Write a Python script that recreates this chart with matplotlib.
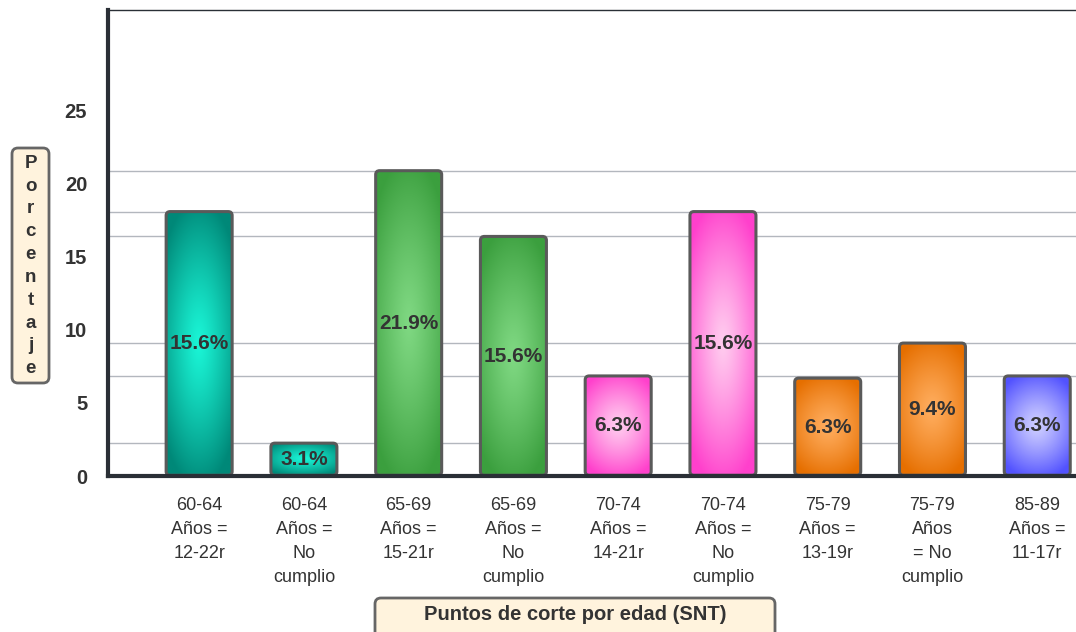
import matplotlib
matplotlib.use("Agg")
import matplotlib.pyplot as plt
import numpy as np
from matplotlib.patches import FancyBboxPatch
from matplotlib.colors import to_rgb

# categories (x tick labels)
categories = ["60-64\nAños =\n12-22r", "60-64\nAños =\nNo\ncumplio",
              "65-69\nAños =\n15-21r", "65-69\nAños =\nNo\ncumplio",
              "70-74\nAños =\n14-21r", "70-74\nAños =\nNo\ncumplio",
              "75-79\nAños =\n13-19r", "75-79\nAños\n= No\ncumplio",
              "85-89\nAños =\n11-17r"]
# bar heights as they sit on the axis scale
heights = [18.1, 2.25, 20.9, 16.4, 6.85, 18.1, 6.7, 9.1, 6.85]
# percent labels printed in the bars
pct_labels = ["15.6%", "3.1%", "21.9%", "15.6%", "6.3%", "15.6%", "6.3%", "9.4%", "6.3%"]
yticks = [0, 5, 10, 15, 20, 25]

# gradient colours (centre, edge) per bar
teal = ("#1af5d6", "#008878")
green = ("#7fd882", "#3b9f3e")
pink = ("#ffccef", "#ff40cc")
orange = ("#ffad5e", "#e66f00")
blue = ("#cfcfff", "#5252ff")
bar_colors = [teal, teal, green, green, pink, pink, orange, orange, blue]

fig = plt.figure(figsize=(10.76, 6.32), dpi=100)
ax = fig.add_axes([108 / 1076, 1 - 476 / 632, 1 - 108 / 1076, 466 / 632])

x = np.arange(len(categories))
width = 0.63
xmin, xmax = -0.87, 8.37
ymax = 31.9

# gridlines sit at the bar tops (close ones merged)
grid_levels = []
for h in sorted(heights, reverse=True):
    if all(abs(h - g) > 0.3 for g in grid_levels):
        grid_levels.append(h)
for h in grid_levels:
    ax.axhline(h, color="#b3b7be", lw=1, zorder=1)

rx = 0.038
ry = 0.27
for xi, h, lab, (c_in, c_out) in zip(x, heights, pct_labels, bar_colors):
    x0 = xi - width / 2
    patch = FancyBboxPatch((x0, 0.05), width, h - 0.05,
                           boxstyle=f"round,pad=0,rounding_size={rx}",
                           mutation_aspect=ry / rx,
                           facecolor="none", edgecolor="#5a5a5a", lw=2.2, zorder=4)
    ax.add_patch(patch)
    # radial gradient clipped to the rounded bar
    nu, nv = 60, 120
    u = np.linspace(-1, 1, nu)
    v = np.linspace(-1, 1, nv)
    U, V = np.meshgrid(u, v)
    d = np.clip(np.sqrt(U ** 2 * 0.6 + V ** 2) / 1.1, 0, 1) ** 1.2
    ci = np.array(to_rgb(c_in))
    co = np.array(to_rgb(c_out))
    img = ci[None, None, :] * (1 - d[..., None]) + co[None, None, :] * d[..., None]
    im = ax.imshow(img, extent=(x0, x0 + width, 0.05, h), aspect="auto",
                   origin="lower", zorder=3, interpolation="bilinear")
    im.set_clip_path(patch)
    ax.text(xi, h / 2, lab, ha="center", va="center", fontsize=15,
            fontweight="bold", color="#333333", family="Liberation Sans", zorder=5)

ax.set_xlim(xmin, xmax)
ax.set_ylim(0, ymax)
ax.set_xticks(x)
ax.set_xticklabels(categories, family="Liberation Sans",
                   fontsize=13, color="#333333", va="top", linespacing=1.55)
ax.set_yticks(yticks)
ax.set_yticklabels([str(t) for t in yticks], fontsize=14.5, fontweight="bold",
                   color="#333333", family="Liberation Sans")
ax.tick_params(axis="both", length=0)
ax.tick_params(axis="x", pad=15)
ax.tick_params(axis="y", pad=15)

ax.spines["right"].set_visible(False)
ax.spines["top"].set_linewidth(1)
ax.spines["top"].set_color("#2a2f36")
ax.spines["left"].set_linewidth(3)
ax.spines["left"].set_color("#2a2f36")
ax.spines["bottom"].set_linewidth(3)
ax.spines["bottom"].set_color("#2a2f36")
ax.spines["left"].set_zorder(6)
ax.spines["bottom"].set_zorder(6)

# overlay in pixel coordinates for the boxed axis titles
ov = fig.add_axes([0, 0, 1, 1], zorder=-1)
ov.set_xlim(0, 1076)
ov.set_ylim(632, 0)
ov.axis("off")
ov.add_patch(FancyBboxPatch((12, 148), 37, 235, boxstyle="round,pad=0,rounding_size=6",
                            facecolor="#fff3dd", edgecolor="#666666", lw=2))
ov.text(30.5, 266, "\n".join("Porcentaje"), ha="center", va="center", fontsize=13.5,
        fontweight="bold", color="#333333", family="Liberation Sans", linespacing=1.45)
ov.add_patch(FancyBboxPatch((375, 598), 400, 45, boxstyle="round,pad=0,rounding_size=6",
                            facecolor="#fff3dd", edgecolor="#666666", lw=2))
ov.text(575, 614, "Puntos de corte por edad (SNT)", ha="center", va="center",
        fontsize=14.5, fontweight="bold", color="#333333", family="Liberation Sans")

plt.savefig("out.png", dpi=100)
